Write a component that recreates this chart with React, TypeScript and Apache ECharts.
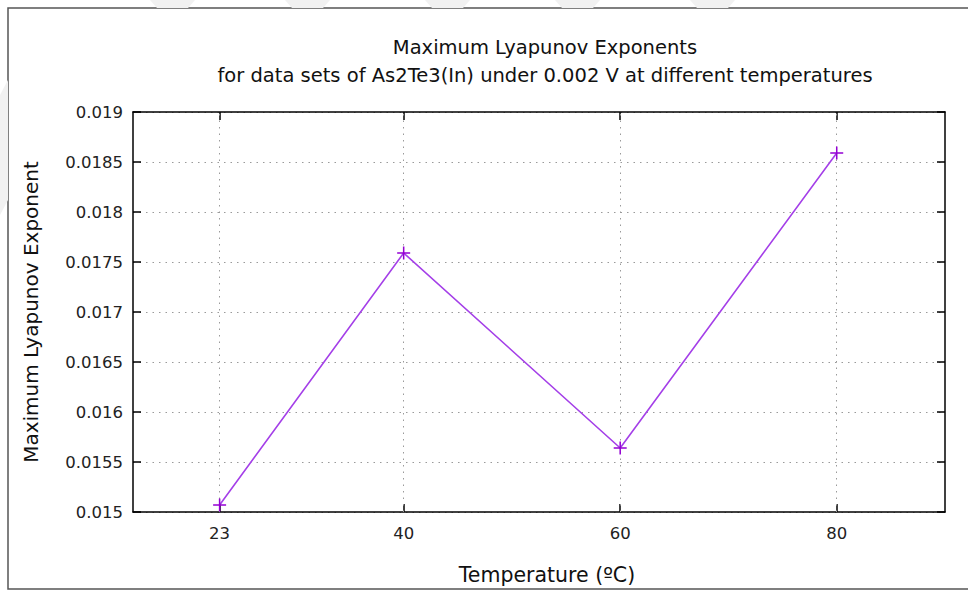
import React, { useEffect, useRef } from "react";
import * as echarts from "echarts";

const temperatures = [23, 40, 60, 80];
const exponents = [0.01507, 0.01759, 0.01564, 0.01859];
const xTickValues = [23, 40, 60, 80];
const titleText = "Maximum Lyapunov Exponents\nfor data sets of As2Te3(In) under 0.002 V at different temperatures";
const xAxisTitle = "Temperature (ºC)";
const yAxisTitle = "Maximum Lyapunov Exponent";

const FONT = "DejaVu Sans";
const PURPLE = "#9400d3";
const PLUS = "path://M5.3,0H6.7V5.3H12V6.7H6.7V12H5.3V6.7H0V5.3H5.3Z";

export default function App() {
  const ref = useRef<HTMLDivElement>(null);
  useEffect(() => {
    if (!ref.current) return;
    const chart = echarts.init(ref.current, undefined, { renderer: "svg" });
    const stripes = [150, 285, 425, 555, 690].map((x) => ({
      type: "polygon",
      shape: { points: [[x, 0], [x + 45, 0], [x + 38, 8], [x + 7, 8]] },
      style: { fill: "#f1f1f1" },
      silent: true,
    }));
    const gridDot = { color: "#9a9a9a", width: 1, type: [1.5, 5] as any };
    chart.setOption({
      animation: false,
      backgroundColor: "#ffffff",
      graphic: [
        ...stripes,
        {
          type: "polygon",
          shape: { points: [[0, 95], [8, 80], [8, 200], [0, 215]] },
          style: { fill: "#f1f1f1" },
          silent: true,
        },
        {
          type: "rect",
          shape: { x: 8, y: 8, width: 975, height: 581 },
          style: { fill: "#ffffff", stroke: "#555555", lineWidth: 1.5 },
          silent: true,
          z: -1,
        },
      ],
      title: {
        text: titleText,
        left: 540,
        top: 28,
        textAlign: "center",
        textStyle: { fontFamily: FONT, fontSize: 19.5, fontWeight: "normal", color: "#111", lineHeight: 28 },
      },
      grid: { left: 133, top: 112, width: 812, height: 403 },
      xAxis: [
        {
          type: "value",
          min: 15,
          max: 90,
          position: "bottom",
          name: xAxisTitle,
          nameLocation: "middle",
          nameGap: 52,
          nameTextStyle: { fontFamily: FONT, fontSize: 20.5, color: "#111", padding: [0, 0, 0, 16] },
          axisLine: { show: true, onZero: false, lineStyle: { color: "#000", width: 1.5 } },
          axisTick: { show: true, inside: true, length: 8, customValues: xTickValues, lineStyle: { color: "#000", width: 1.5 } },
          axisLabel: { customValues: xTickValues, margin: 13, fontFamily: FONT, fontSize: 16.5, color: "#222" },
          splitLine: { show: false },
        },
        {
          type: "value",
          min: 15,
          max: 90,
          position: "top",
          axisLine: { show: true, onZero: false, lineStyle: { color: "#000", width: 1.5 } },
          axisTick: { show: true, inside: true, length: 8, customValues: xTickValues, lineStyle: { color: "#000", width: 1.5 } },
          axisLabel: { show: false },
          splitLine: { show: false },
        },
      ],
      yAxis: [
        {
          type: "value",
          min: 0.015,
          max: 0.019,
          interval: 0.0005,
          position: "left",
          name: yAxisTitle,
          nameLocation: "middle",
          nameGap: 92,
          nameTextStyle: { fontFamily: FONT, fontSize: 20, color: "#111" },
          axisLine: { show: true, onZero: false, lineStyle: { color: "#000", width: 1.5 } },
          axisTick: { show: true, inside: true, length: 8, lineStyle: { color: "#000", width: 1.5 } },
          axisLabel: {
            margin: 10,
            fontFamily: FONT,
            fontSize: 16.5,
            color: "#222",
            formatter: (v: number) => String(parseFloat(v.toFixed(5))),
          },
          splitLine: { show: true, lineStyle: gridDot },
        },
        {
          type: "value",
          min: 0.015,
          max: 0.019,
          interval: 0.0005,
          position: "right",
          axisLine: { show: true, onZero: false, lineStyle: { color: "#000", width: 1.5 } },
          axisTick: { show: true, inside: true, length: 8, lineStyle: { color: "#000", width: 1.5 } },
          axisLabel: { show: false },
          splitLine: { show: false },
        },
      ],
      series: [
        {
          type: "line",
          xAxisIndex: 0,
          yAxisIndex: 0,
          data: temperatures.map((t, i) => [t, exponents[i]]),
          symbol: PLUS,
          symbolSize: 13,
          showSymbol: true,
          itemStyle: { color: PURPLE },
          lineStyle: { color: "#a43fe8", width: 1.6 },
          z: 5,
          markLine: {
            silent: true,
            symbol: "none",
            label: { show: false },
            lineStyle: gridDot,
            z: 1,
            data: xTickValues.map((v) => ({ xAxis: v })),
          },
        },
      ],
    });
    return () => chart.dispose();
  }, []);
  return <div ref={ref} style={{ position: "fixed", left: 0, top: 0, width: 968, height: 590 }} />;
}
